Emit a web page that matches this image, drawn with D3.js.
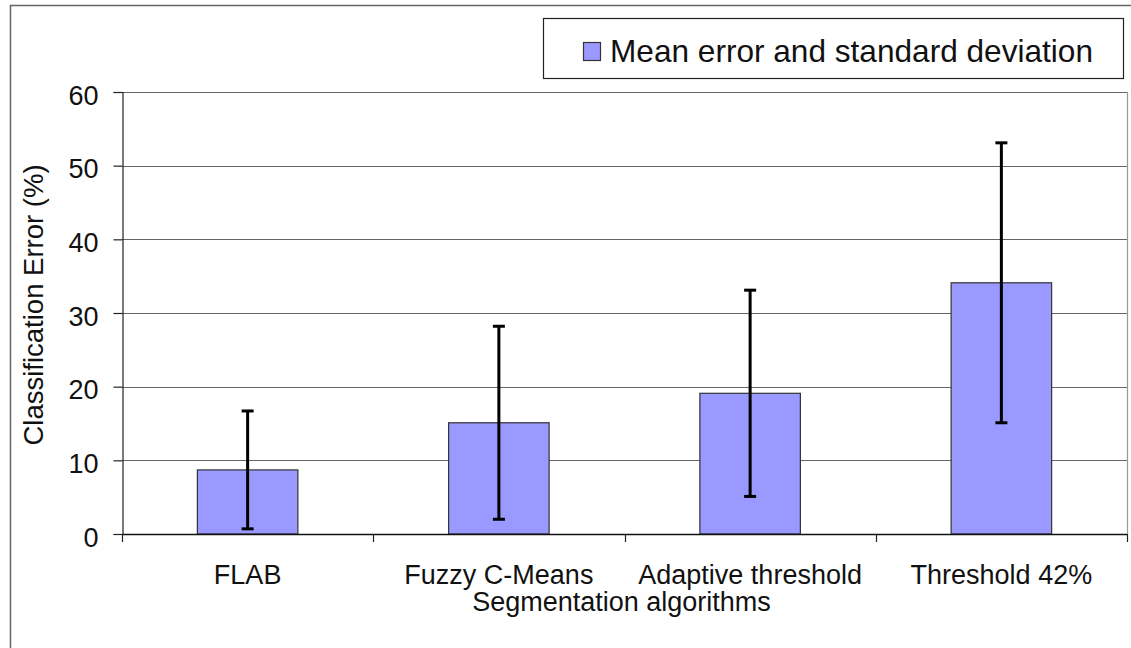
<!DOCTYPE html>
<html>
<head>
<meta charset="utf-8">
<script src="https://cdn.jsdelivr.net/npm/d3@7"></script>
<style>
  html, body { margin: 0; padding: 0; background: #fff; }
  svg { display: block; font-family: Arial, "Liberation Sans", sans-serif; }
</style>
</head>
<body>
<svg id="chart" width="1131" height="648"></svg>
<script>
const categories = ["FLAB", "Fuzzy C-Means", "Adaptive threshold", "Threshold 42%"];
const meanValues = [8.7, 15.1, 19.1, 34.1];
const stdValues = [8.0, 13.1, 14.0, 19.0];
const yTicks = [0, 10, 20, 30, 40, 50, 60];
const legendLabel = "Mean error and standard deviation";
const xTitle = "Segmentation algorithms";
const yTitle = "Classification Error (%)";

const svg = d3.select("#chart");
const W = 1131, H = 648;
const plot = { left: 122, top: 92, right: 1127, bottom: 534 };

// outer frame
svg.append("rect").attr("x", 10.5).attr("y", 5.5).attr("width", W + 10).attr("height", H + 10)
  .attr("fill", "#fff").attr("stroke", "#666").attr("stroke-width", 1.5);

const x = d3.scaleBand().domain(categories).range([plot.left, plot.right]).paddingInner(0).paddingOuter(0);
const y = d3.scaleLinear().domain([0, 60]).range([plot.bottom, plot.top]);

// gridlines
svg.append("g").selectAll("line").data(yTicks.filter(d => d > 0)).join("line")
  .attr("x1", plot.left).attr("x2", plot.right)
  .attr("y1", d => Math.round(y(d)) + 0.5).attr("y2", d => Math.round(y(d)) + 0.5)
  .attr("stroke", "#666").attr("stroke-width", 1.2);

// plot area right border
svg.append("line").attr("x1", plot.right + 0.5).attr("x2", plot.right + 0.5)
  .attr("y1", plot.top).attr("y2", plot.bottom).attr("stroke", "#999").attr("stroke-width", 1.2);

// y axis
const yAxis = d3.axisLeft(y).tickValues(yTicks).tickSize(9).tickPadding(15).tickFormat(d3.format("d"));
const gy = svg.append("g").attr("transform", `translate(${plot.left + 0.5},0)`).call(yAxis);
gy.select(".domain").attr("stroke", "#222").attr("stroke-width", 1.2);
gy.selectAll(".tick line").attr("stroke", "#222").attr("stroke-width", 1.2);
gy.selectAll(".tick text").attr("font-size", 27).attr("fill", "#111")
  .attr("font-family", "Arial, 'Liberation Sans', sans-serif").attr("dy", "0.45em");

// bars
const barW = x.bandwidth() * 0.4;
svg.append("g").selectAll("rect").data(categories).join("rect")
  .attr("x", d => x(d) + (x.bandwidth() - barW) / 2)
  .attr("y", (d, i) => y(meanValues[i]))
  .attr("width", barW)
  .attr("height", (d, i) => y(0) - y(meanValues[i]))
  .attr("fill", "#9999FF").attr("stroke", "#333").attr("stroke-width", 1.2);

// x axis
const xAxisLine = svg.append("g");
xAxisLine.append("line").attr("x1", plot.left).attr("x2", plot.right)
  .attr("y1", plot.bottom + 0.5).attr("y2", plot.bottom + 0.5).attr("stroke", "#111").attr("stroke-width", 1.5);
const boundaries = categories.map(c => x(c)).concat([plot.right]);
xAxisLine.selectAll("line.tk").data(boundaries).join("line").attr("class", "tk")
  .attr("x1", d => Math.round(d) + 0.5).attr("x2", d => Math.round(d) + 0.5)
  .attr("y1", plot.bottom).attr("y2", plot.bottom + 8).attr("stroke", "#222").attr("stroke-width", 1.2);
xAxisLine.selectAll("text").data(categories).join("text")
  .attr("x", d => x(d) + x.bandwidth() / 2).attr("y", 584)
  .attr("text-anchor", "middle").attr("font-size", 27).attr("fill", "#111")
  .text(d => d);

// error bars
const eb = svg.append("g").attr("stroke", "#000").attr("stroke-width", 3);
categories.forEach((c, i) => {
  const cx = x(c) + x.bandwidth() / 2;
  const lo = meanValues[i] - stdValues[i], hi = meanValues[i] + stdValues[i];
  eb.append("line").attr("x1", cx).attr("x2", cx).attr("y1", y(hi)).attr("y2", y(lo));
  eb.append("line").attr("x1", cx - 6).attr("x2", cx + 6).attr("y1", y(hi)).attr("y2", y(hi));
  eb.append("line").attr("x1", cx - 6).attr("x2", cx + 6).attr("y1", y(lo)).attr("y2", y(lo));
});

// axis titles
svg.append("text").attr("x", (plot.left + plot.right) / 2 - 3).attr("y", 611)
  .attr("text-anchor", "middle").attr("font-size", 27).attr("fill", "#111").text(xTitle);
svg.append("text").attr("transform", `translate(43,305) rotate(-90)`)
  .attr("text-anchor", "middle").attr("font-size", 27.5).attr("fill", "#111").text(yTitle);

// legend
const lg = svg.append("g");
lg.append("rect").attr("x", 543.5).attr("y", 18.5).attr("width", 580).attr("height", 60)
  .attr("fill", "#fff").attr("stroke", "#222").attr("stroke-width", 1.2);
lg.append("rect").attr("x", 583.5).attr("y", 42.5).attr("width", 17).attr("height", 18)
  .attr("fill", "#9999FF").attr("stroke", "#333").attr("stroke-width", 1.2);
lg.append("text").attr("x", 610).attr("y", 62).attr("font-size", 31.6).attr("fill", "#111").text(legendLabel);
</script>
</body>
</html>
